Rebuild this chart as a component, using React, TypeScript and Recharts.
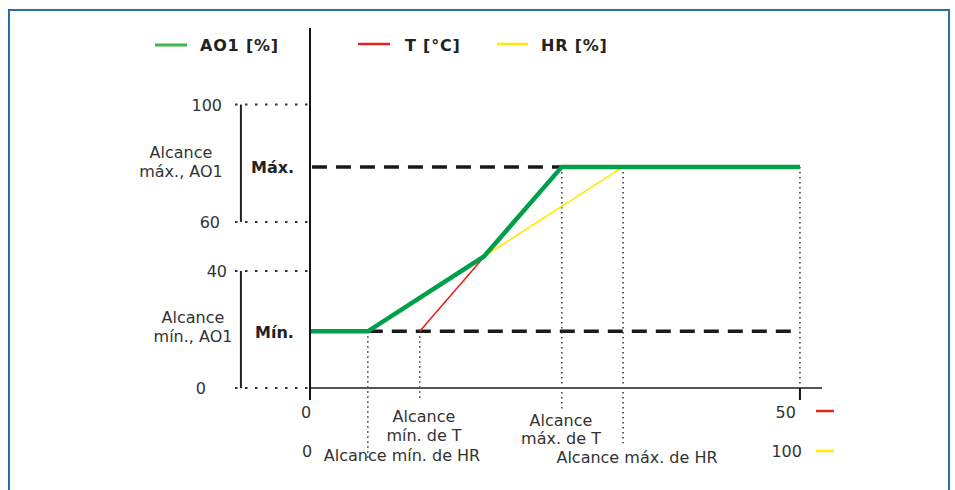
import { LineChart, Line, XAxis, YAxis, ReferenceLine } from 'recharts';

// schematic units: x 0..100 = full input scale, y 0..100 = AO1 percent (drawn as in the sheet)
const aoX = [0, 11.8, 35.5, 51.4, 100];
const aoY = [20, 20, 46.4, 78, 78];
const tX = [22.4, 51.4];
const tY = [20, 78];
const hrX = [11.8, 63.9];
const hrY = [20, 78];

const yTickPos = [0, 41.3, 58.6, 100];
const yTickLabels = ['0', '40', '60', '100'];
const xTickPos = [0, 100];
const tScaleLabels = ['0', '50'];
const hrScaleLabels = ['0', '100'];

const aoMin = 20;
const aoMax = 78;
const hrMin = 11.8;
const tMin = 22.4;
const tMax = 51.4;
const hrMax = 63.9;

const toPoints = (xs: number[], ys: number[]) => xs.map((x, i) => ({ x, y: ys[i] }));

const GREEN = '#00a04b';
const RED = '#e52421';
const YELLOW = '#ffec00';
const INK = '#333';

const dashed = { stroke: '#1a1a1a', strokeWidth: 3.5, strokeDasharray: '15 9' };
const dotted = { stroke: '#333', strokeWidth: 1.5, strokeDasharray: '1.5 3.5' };
const dottedH = { stroke: '#333', strokeWidth: 2, strokeDasharray: '2.5 7.5' };

// the sheet's y labels sit a little unevenly
const yLabelShift: Record<string, number> = { '0': -16, '40': 5, '60': -2, '100': 0 };

function YTick({ x, y, payload }: any) {
  const label = yTickLabels[yTickPos.indexOf(payload.value)];
  return (
    <text x={x + (yLabelShift[label] ?? 0)} y={y} dy={6} textAnchor="end" fill={INK} fontSize={16}>
      {label}
    </text>
  );
}

function XTick({ x, y, index }: any) {
  const first = index === 0;
  return (
    <g fill={INK} fontSize={16}>
      <text x={x - 4} y={y + 16} textAnchor={first ? 'middle' : 'end'}>
        {tScaleLabels[index]}
      </text>
      <text x={first ? x - 3 : x + 2} y={y + 55} textAnchor={first ? 'middle' : 'end'}>
        {hrScaleLabels[index]}
      </text>
      {!first && (
        <>
          <line x1={x + 16} x2={x + 34} y1={y + 9} y2={y + 9} stroke={RED} strokeWidth={2.5} />
          <line x1={x + 16} x2={x + 34} y1={y + 49} y2={y + 49} stroke={YELLOW} strokeWidth={2.5} />
        </>
      )}
    </g>
  );
}

export default function App() {
  return (
    <div
      style={{
        position: 'absolute',
        left: 0,
        top: 0,
        width: 955,
        height: 490,
        background: '#fff',
        fontFamily: '"DejaVu Sans", Verdana, sans-serif',
      }}
    >
      <LineChart
        width={955}
        height={490}
        margin={{ top: 28, right: 133, left: 210, bottom: 0 }}
      >
        <XAxis
          type="number"
          dataKey="x"
          domain={[0, 104.5]}
          ticks={xTickPos}
          interval={0}
          height={102}
          axisLine={{ stroke: '#555', strokeWidth: 2 }}
          tickLine={{ stroke: '#111', strokeWidth: 2 }}
          tickSize={12}
          tick={<XTick />}
        />
        <YAxis
          type="number"
          domain={[0, 127]}
          ticks={yTickPos}
          interval={0}
          width={100}
          axisLine={{ stroke: '#111', strokeWidth: 2 }}
          tickLine={dottedH}
          tickSize={75}
          tickMargin={13}
          tick={<YTick />}
        />

        {/* x axis dotted overlay */}
        <ReferenceLine segment={[{ x: 0, y: 0 }, { x: 100, y: 0 }]} {...dotted} strokeWidth={2} />

        {/* brackets left of the y axis */}
        <ReferenceLine ifOverflow="visible" segment={[{ x: -14.1, y: 100 }, { x: -14.1, y: 58.6 }]} stroke="#222" strokeWidth={2} />
        <ReferenceLine ifOverflow="visible" segment={[{ x: -14.1, y: 41.3 }, { x: -14.1, y: 0 }]} stroke="#222" strokeWidth={2} />

        {/* limit lines */}
        <ReferenceLine segment={[{ x: 0.4, y: aoMax }, { x: tMax, y: aoMax }]} {...dashed} />
        <ReferenceLine segment={[{ x: hrMin, y: aoMin }, { x: 100, y: aoMin }]} {...dashed} />

        {/* dotted drop lines */}
        <ReferenceLine ifOverflow="visible" segment={[{ x: hrMin, y: aoMin }, { x: hrMin, y: -25 }]} {...dotted} />
        <ReferenceLine ifOverflow="visible" segment={[{ x: tMin, y: aoMin }, { x: tMin, y: -4.5 }]} {...dotted} />
        <ReferenceLine ifOverflow="visible" segment={[{ x: tMax, y: aoMax }, { x: tMax, y: -8 }]} {...dotted} />
        <ReferenceLine ifOverflow="visible" segment={[{ x: hrMax, y: aoMax }, { x: hrMax, y: -19.5 }]} {...dotted} />
        <ReferenceLine ifOverflow="visible" segment={[{ x: 100, y: aoMax }, { x: 100, y: 0 }]} {...dotted} />

        <Line data={toPoints(hrX, hrY)} dataKey="y" stroke={YELLOW} strokeWidth={1.6} dot={false} isAnimationActive={false} />
        <Line data={toPoints(tX, tY)} dataKey="y" stroke={RED} strokeWidth={1.6} dot={false} isAnimationActive={false} />
        <Line data={toPoints(aoX, aoY)} dataKey="y" stroke={GREEN} strokeWidth={4.5} dot={false} isAnimationActive={false} strokeLinejoin="miter" />
      </LineChart>

      <svg
        width={955}
        height={490}
        style={{ position: 'absolute', left: 0, top: 0, pointerEvents: 'none' }}
        fontFamily='"DejaVu Sans", Verdana, sans-serif'
      >
        <rect x={9} y={10} width={940} height={500} fill="none" stroke="#2e6da4" strokeWidth={2} />

        {/* legend */}
        <g fontSize={16} fontWeight="bold" fill="#222" letterSpacing={0.8}>
          <line x1={155} x2={187} y1={45} y2={45} stroke="#3db54a" strokeWidth={3} />
          <text x={200} y={51}>AO1 [%]</text>
          <line x1={358} x2={390} y1={44} y2={44} stroke={RED} strokeWidth={2.5} />
          <text x={405} y={51}>T [°C]</text>
          <line x1={497} x2={528} y1={44} y2={44} stroke={YELLOW} strokeWidth={2.5} />
          <text x={541} y={51}>HR [%]</text>
        </g>

        <g fontSize={16} fill={INK} textAnchor="middle">
          <text x={181} y={158}>Alcance</text>
          <text x={181} y={177}>máx., AO1</text>
          <text x={193} y={323}>Alcance</text>
          <text x={193} y={342}>mín., AO1</text>

          <text x={424} y={422}>Alcance</text>
          <text x={424} y={441}>mín. de T</text>
          <text x={402} y={461}>Alcance mín. de HR</text>
          <text x={561} y={426}>Alcance</text>
          <text x={561} y={444}>máx. de T</text>
          <text x={637} y={463}>Alcance máx. de HR</text>
        </g>
        <g fontSize={16} fontWeight="bold" fill="#222">
          <text x={251} y={173}>Máx.</text>
          <text x={255} y={338}>Mín.</text>
        </g>
      </svg>
    </div>
  );
}
